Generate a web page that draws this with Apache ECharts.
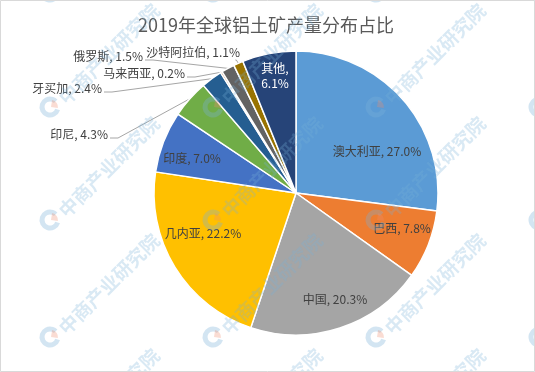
<!DOCTYPE html>
<html>
<head>
<meta charset="utf-8">
<script src="https://cdn.jsdelivr.net/npm/echarts@6/dist/echarts.min.js"></script>
<style>
html,body{margin:0;padding:0;background:#fff;}
#chart{width:535px;height:372px;}
</style>
</head>
<body>
<div id="chart"></div>
<script>
// ---- data ----
const titleText = '2019年全球铝土矿产量分布占比';
const categories = ['澳大利亚', '巴西', '中国', '几内亚', '印度', '印尼', '牙买加', '马来西亚', '俄罗斯', '沙特阿拉伯', '其他'];
const shares = [27.0, 7.8, 20.3, 22.2, 7.0, 4.3, 2.4, 0.2, 1.5, 1.1, 6.1];

// ---- styling ----
const colors = ['#5B9BD5', '#ED7D31', '#A5A5A5', '#FFC000', '#4472C4', '#70AD47', '#255E91', '#9E480E', '#636363', '#997300', '#264478'];
// label placement: [x, y, align, inside?]
const labelPlace = [
  [377, 151, 'center', true],
  [402, 228, 'center', true],
  [335, 299, 'center', true],
  [203, 233, 'center', true],
  [192, 158, 'center', true],
  [108, 134, 'right', false],
  [102, 88, 'right', false],
  [185, 73, 'right', false],
  [143, 56, 'right', false],
  [240, 52, 'right', false],
  [275, 76, 'center', true]
];
const FONT = '"Noto Sans CJK SC", "Noto Sans", sans-serif';

const chart = echarts.init(document.getElementById('chart'), null, {renderer: 'canvas'});

const pieData = categories.map((name, i) => {
  const inside = labelPlace[i][3];
  return {
    name: name,
    value: shares[i],
    itemStyle: {color: colors[i]},
    label: {
      position: inside ? 'inside' : 'outside',
      color: i === 10 ? '#ffffff' : '#404040',
      lineHeight: 15
    },
    labelLine: {show: !inside}
  };
});

// watermark graphics
const wm = [];
const wmX = [50, 213, 376, 539];
const wmY = [-8, 107, 220, 337, 452];
wmY.forEach(y => wmX.forEach(x => {
  wm.push({
    type: 'arc', z: 100, silent: true,
    shape: {cx: x, cy: y, r: 8, startAngle: Math.PI * 0.1, endAngle: Math.PI * 1.75},
    style: {stroke: 'rgba(120,175,215,0.33)', lineWidth: 5, fill: null}
  });
  wm.push({
    type: 'sector', z: 100, silent: true,
    shape: {cx: x + 1, cy: y, r: 7, r0: 0, startAngle: -Math.PI * 0.45, endAngle: Math.PI * 0.05},
    style: {fill: 'rgba(240,140,110,0.30)'}
  });
  wm.push({
    type: 'text', z: 100, silent: true,
    x: x + 12, y: y - 6, rotation: Math.PI / 4,
    style: {text: '中商产业研究院', font: 'bold 19px ' + FONT, fill: 'rgba(120,175,215,0.28)', textVerticalAlign: 'middle'}
  });
}));
wm.push({
  type: 'rect', z: 101, silent: true,
  shape: {x: 0.5, y: 0.5, width: 534, height: 371},
  style: {fill: null, stroke: '#d9d9d9', lineWidth: 1}
});

const option = {
  animation: false,
  backgroundColor: '#ffffff',
  title: {
    text: titleText,
    left: 133, top: 11,
    textStyle: {fontFamily: FONT, fontSize: 18, fontWeight: 'normal', color: '#595959'}
  },
  series: [{
    type: 'pie',
    center: [296, 193],
    radius: 142,
    startAngle: 90,
    clockwise: true,
    avoidLabelOverlap: false,
    emphasis: {disabled: true},
    itemStyle: {borderColor: '#ffffff', borderWidth: 1.5},
    label: {
      fontFamily: FONT, fontSize: 12, color: '#404040',
      formatter: p => p.dataIndex === 10 ? (p.name + ',\n' + p.value.toFixed(1) + '%') : (p.name + ', ' + p.value.toFixed(1) + '%')
    },
    labelLine: {show: true, length: 10, length2: 8, smooth: false, lineStyle: {color: '#a6a6a6', width: 1}},
    labelLayout: function (params) {
      const pl = labelPlace[params.dataIndex];
      const res = {x: pl[0], y: pl[1], align: pl[2], verticalAlign: 'middle'};
      if (!pl[3] && params.labelLinePoints) {
        const a = params.labelLinePoints[0];
        if (a[0] <= pl[0] + 4) {
          res.labelLinePoints = [a, [a[0] - 2, pl[1] + 8], [a[0] - 3, pl[1] + 8]];
        } else {
          res.labelLinePoints = [a, [pl[0] + 10, pl[1] + 4], [pl[0] + 2, pl[1] + 4]];
        }
      }
      return res;
    },
    data: pieData
  }],
  graphic: wm
};
chart.setOption(option);
</script>
</body>
</html>
